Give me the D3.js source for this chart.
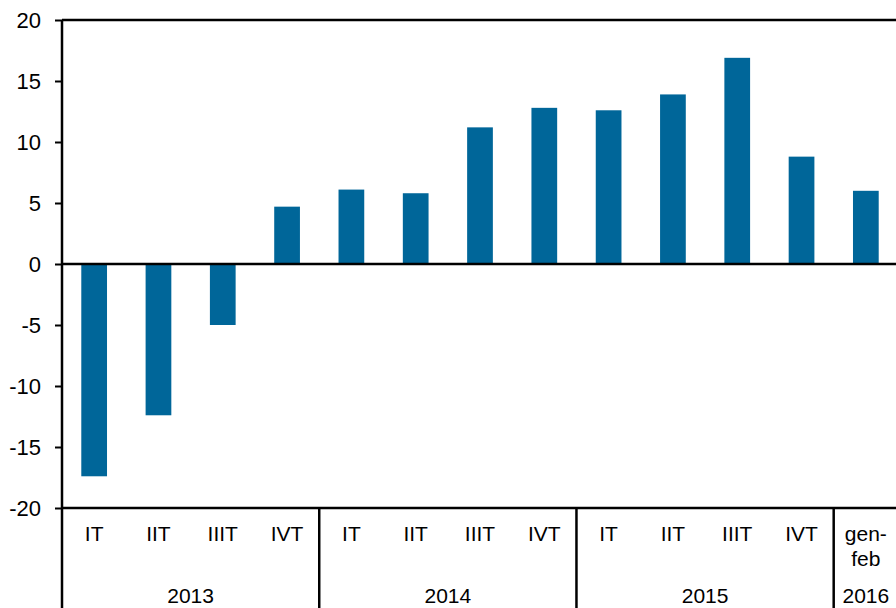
<!DOCTYPE html>
<html>
<head>
<meta charset="utf-8">
<script src="https://cdn.jsdelivr.net/npm/d3@7"></script>
<style>
  body { margin: 0; background: #fff; }
  text { font-family: "Liberation Sans", Arial, sans-serif; fill: #000; }
</style>
</head>
<body>
<div id="container"></div>
<script>
let w = 896;
let h = 608;

// data
let quarters = ["IT", "IIT", "IIIT", "IVT", "IT", "IIT", "IIIT", "IVT", "IT", "IIT", "IIIT", "IVT", "gen-feb"];
let years = ["2013", "2013", "2013", "2013", "2014", "2014", "2014", "2014", "2015", "2015", "2015", "2015", "2016"];
let values = [-17.4, -12.4, -5.0, 4.7, 6.1, 5.8, 11.2, 12.8, 12.6, 13.9, 16.9, 8.8, 6.0];
let yTicks = [-20, -15, -10, -5, 0, 5, 10, 15, 20];

let plotLeft = 62, plotTop = 20, plotBottom = 508, plotRight = 898;
let fontSize = "21px";

let viz = d3.select("#container").append("svg")
    .attr("width", w)
    .attr("height", h);

let x = d3.scaleBand()
    .domain(d3.range(values.length))
    .range([plotLeft, plotRight])
    .paddingInner(0.6)
    .paddingOuter(0.3);

let y = d3.scaleLinear().domain([-20, 20]).range([plotBottom, plotTop]);

// bars
viz.append("g").selectAll("rect").data(values).enter()
  .append("rect")
    .attr("x", (d, i) => x(i))
    .attr("width", x.bandwidth())
    .attr("y", d => y(Math.max(0, d)))
    .attr("height", d => Math.abs(y(d) - y(0)))
    .attr("fill", "#006699");

// y axis
let yAxis = viz.append("g")
    .attr("transform", "translate(" + plotLeft + ",0)")
    .call(d3.axisLeft(y).tickValues(yTicks).tickSize(7).tickPadding(14).tickFormat(d => String(d)));
yAxis.select(".domain").remove();
yAxis.selectAll(".tick line").attr("stroke", "#000").attr("stroke-width", 2);
yAxis.selectAll(".tick text").style("font-size", "22px").attr("font-family", null);

// frame lines
let lines = viz.append("g").attr("stroke", "#000").attr("stroke-width", 2.5);
lines.append("line").attr("x1", plotLeft).attr("x2", w).attr("y1", y(20)).attr("y2", y(20));
lines.append("line").attr("x1", plotLeft).attr("x2", w).attr("y1", y(0)).attr("y2", y(0));
lines.append("line").attr("x1", plotLeft).attr("x2", w).attr("y1", y(-20)).attr("y2", y(-20));
lines.append("line").attr("x1", plotLeft).attr("x2", plotLeft).attr("y1", y(20)).attr("y2", h);

// year groups
let step = x.step();
let yearNames = Array.from(new Set(years));
let groups = yearNames.map(function (yr) {
  let idx = years.map((d, i) => d == yr ? i : -1).filter(i => i >= 0);
  return { year: yr, first: idx[0], last: idx[idx.length - 1] };
});

groups.forEach(function (g, k) {
  let x0 = x(g.first) - step * x.paddingInner() / 2;
  let x1 = x(g.last) + x.bandwidth() + step * x.paddingInner() / 2;
  if (k > 0) {
    lines.append("line").attr("x1", x0).attr("x2", x0).attr("y1", plotBottom).attr("y2", h);
  }
  let cx = (x0 + x1) / 2;
  viz.append("text")
    .attr("x", cx)
    .attr("y", 603)
    .attr("text-anchor", "middle")
    .style("font-size", fontSize)
    .text(g.year);
});

// quarter labels
quarters.forEach(function (q, i) {
  let cx = x(i) + x.bandwidth() / 2;
  if (q == "gen-feb") {
    let t = viz.append("text").attr("text-anchor", "middle").style("font-size", fontSize);
    t.append("tspan").attr("x", cx).attr("y", 541).text("gen-");
    t.append("tspan").attr("x", cx).attr("y", 566).text("feb");
  } else {
    viz.append("text")
      .attr("x", cx)
      .attr("y", 541)
      .attr("text-anchor", "middle")
      .style("font-size", fontSize)
      .text(q);
  }
});
</script>
</body>
</html>
